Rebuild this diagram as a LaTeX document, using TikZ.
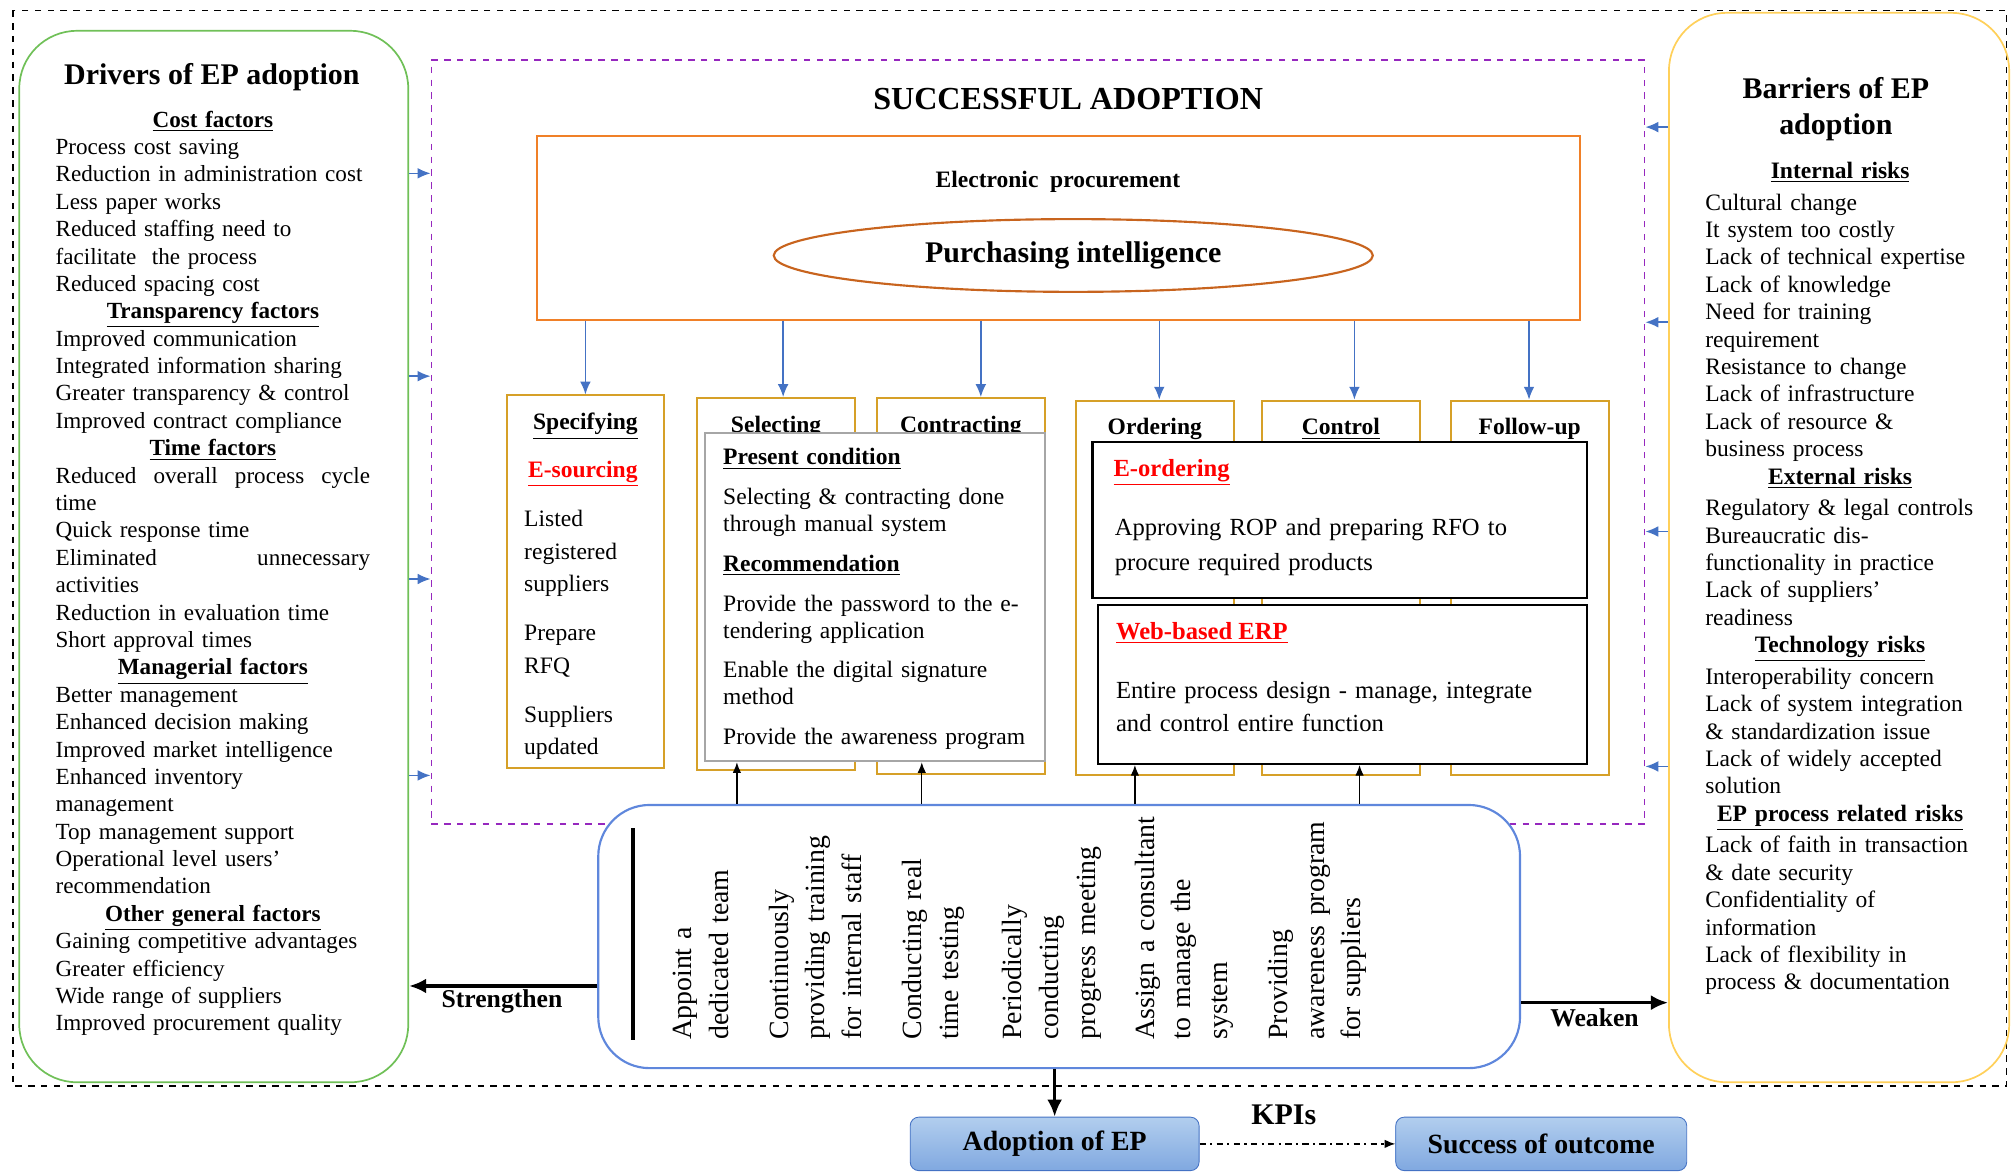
\documentclass[tikz,border=0pt]{standalone}
\usepackage{fontspec}
\setmainfont{Liberation Serif}
\usetikzlibrary{fit,shapes.geometric,arrows.meta}

% Colori
\definecolor{verde}{RGB}{112,192,88}
\definecolor{giallo}{RGB}{255,208,90}
\definecolor{viola}{RGB}{150,40,190}
\definecolor{arancio}{RGB}{240,128,40}
\definecolor{ruggine}{RGB}{200,100,30}
\definecolor{oro}{RGB}{214,160,40}
\definecolor{blu}{RGB}{68,114,196}
\definecolor{azzurro}{RGB}{95,135,220}
\definecolor{celeste1}{RGB}{178,206,238}
\definecolor{celeste2}{RGB}{128,168,224}

% Righe di titolo e righe giustificate
\newcommand{\titolo}[1]{\leavevmode\hbox to\hsize{\hfil\textbf{\underline{#1}}\hfil}}
\newcommand{\giust}[1]{\leavevmode\hbox to\hsize{#1}}
\newcommand{\rosso}[1]{\textcolor{red}{\textbf{\underline{#1}}}}

\begin{document}
\begin{tikzpicture}[x=0.6pt, y=-0.6pt,
    fase/.style={draw=oro, line width=0.9pt, inner sep=0pt},
    elenco/.style={inner sep=0pt, anchor=base west, align=left, font=\fontsize{10.8}{12.8}\selectfont},
    azione/.style={inner sep=0pt, anchor=base west, rotate=90, align=left, text width=110pt, font=\fontsize{13}{17.1}\selectfont},
    freccia/.style={blu, line width=0.7pt, -{Latex[length=6pt,width=5pt]}},
    su/.style={line width=0.6pt, -{Latex[length=5pt,width=4pt]}},
    spinta/.style={line width=1.6pt, -{Latex[length=8pt,width=7pt]}},
    esito/.style={draw=blu, rounded corners=4pt, top color=celeste1, bottom color=celeste2, minimum width=135pt, minimum height=25pt, inner sep=0pt, font=\fontsize{13}{15}\selectfont\bfseries}
    ]

    % Area del disegno (pixel del riferimento)
    \useasboundingbox (0,0) rectangle (1568,914);

    % Cornice esterna
    \draw[dashed, line width=0.7pt] (10,8) rectangle (1563,846);

    % Riquadri laterali
    \node[draw=verde, line width=0.8pt, rounded corners=27pt, inner sep=0pt, fit={(15,24) (318,843)}] (drivers) {};
    \node[draw=giallo, line width=0.8pt, rounded corners=27pt, inner sep=0pt, fit={(1300,10) (1565,843)}] (barriers) {};

    % Fattori (drivers)
    \node[font=\fontsize{14}{17}\selectfont\bfseries] (drivers-t) at (165,60) {Drivers of EP adoption};
    \node[elenco, text width=147pt] (drivers-l) at (43,99) {%
        \titolo{Cost factors}\\
        Process cost saving\\
        Reduction in administration cost\\
        Less paper works\\
        Reduced staffing need to\\
        facilitate~ the process\\
        Reduced spacing cost\\
        \titolo{Transparency factors}\\
        Improved communication\\
        Integrated information sharing\\
        Greater transparency \& control\\
        Improved contract compliance\\
        \titolo{Time factors}\\
        \giust{Reduced\hfill overall\hfill process\hfill cycle}\\
        time\\
        Quick response time\\
        \giust{Eliminated\hfill unnecessary}\\
        activities\\
        Reduction in evaluation time\\
        Short approval times\\
        \titolo{Managerial factors}\\
        Better management\\
        Enhanced decision making\\
        Improved market intelligence\\
        Enhanced inventory\\
        management\\
        Top management support\\
        Operational level users'\\
        recommendation\\
        \titolo{Other general factors}\\
        Gaining competitive advantages\\
        Greater efficiency\\
        Wide range of suppliers\\
        Improved procurement quality};

    % Barriere
    \node[align=center, font=\fontsize{14}{16.8}\selectfont\bfseries] (barriers-t) at (1430,85) {Barriers of EP\\adoption};
    \node[elenco, text width=126pt, font=\fontsize{11}{12.8}\selectfont] (barriers-l) at (1328,139) {%
        \titolo{Internal risks}\\[2pt]
        Cultural change\\
        It system too costly\\
        Lack of technical expertise\\
        Lack of knowledge\\
        Need for training\\
        requirement\\
        Resistance to change\\
        Lack of infrastructure\\
        Lack of resource \&\\
        business process\\
        \titolo{External risks}\\[2pt]
        Regulatory \& legal controls\\
        Bureaucratic dis-\\
        functionality in practice\\
        Lack of suppliers'\\
        readiness\\
        \titolo{Technology risks}\\[2pt]
        Interoperability concern\\
        Lack of system integration\\
        \& standardization issue\\
        Lack of widely accepted\\
        solution\\
        \titolo{EP process related risks}\\[2pt]
        Lack of faith in transaction\\
        \& date security\\
        Confidentiality of\\
        information\\
        Lack of flexibility in\\
        process \& documentation};

    % Adozione riuscita
    \node[draw=viola, dashed, line width=0.8pt, inner sep=0pt, fit={(336,47) (1281,642)}] (succ) {};
    \node[font=\fontsize{15}{18}\selectfont\bfseries] (succ-t) at (832,77) {SUCCESSFUL ADOPTION};

    % Procurement elettronico
    \node[draw=arancio, line width=1pt, inner sep=0pt, fit={(418,106) (1231,249)}] (ep) {};
    \node[font=\fontsize{11}{13}\selectfont\bfseries] (ep-t) at (824,142) {Electronic~ procurement};
    \node[ellipse, draw=ruggine, line width=1pt, minimum width=280pt, minimum height=34pt, inner sep=0pt,
          font=\fontsize{14}{17}\selectfont\bfseries] (intel) at (836,199) {Purchasing intelligence};

    % Fasi del processo
    \foreach \nome/\xa/\ya/\xb/\yb/\testo in {spec/395/308/517/598/Specifying, sel/543/310/666/600/Selecting,
            contr/683/310/814/603/Contracting, ord/838/312/961/604/Ordering,
            ctrl/983/312/1106/604/Control, foll/1130/312/1253/604/Follow-up} {
        \node[fase, fit={(\xa,\ya) (\xb,\yb)}] (\nome) {};
        \node[anchor=base, font=\fontsize{11}{13}\selectfont\bfseries] (\nome-t) at ([yshift=-16.5pt]\nome.north) {\underline{\testo}};
    }

    % Specifying
    \node[font=\fontsize{11}{13}\selectfont] (esourcing) at (454,369) {\rosso{E-sourcing}};
    \node[elenco, text width=62pt, font=\fontsize{11}{15.3}\selectfont] (spec-l) at (408,410)
        {Listed\\registered\\suppliers\\[7.5pt]Prepare\\RFQ\\[7.5pt]Suppliers\\updated};

    % Selecting / Contracting
    \node[draw=gray!70, line width=0.9pt, fill=white, inner sep=0pt, fit={(549,337) (814,593)}] (cond) {};
    \node[elenco, text width=150pt, font=\fontsize{11}{12.6}\selectfont] (cond-l) at (563,362) {%
        \textbf{\underline{Present condition}}\\[6pt]
        Selecting \& contracting done\\
        through manual system\\[6pt]
        \textbf{\underline{Recommendation}}\\[6pt]
        Provide the password to the e-\\
        tendering application\\[6pt]
        Enable the digital signature\\
        method\\[6pt]
        Provide the awareness program};

    % Ordering / Control / Follow-up
    \node[draw, line width=1pt, fill=white, inner sep=0pt, fit={(851,344) (1236,466)}] (eord) {};
    \node[anchor=base west, inner sep=0pt, font=\fontsize{11.5}{14}\selectfont] (eord-t) at (867,371) {\rosso{E-ordering}};
    \node[elenco, text width=215pt, font=\fontsize{11.5}{16.2}\selectfont] (eord-l) at (868,417)
        {Approving ROP and preparing RFO to\\procure required products};
    \node[draw, line width=1pt, fill=white, inner sep=0pt, fit={(855,471) (1236,595)}] (erp) {};
    \node[anchor=base west, inner sep=0pt, font=\fontsize{11.5}{14}\selectfont] (erp-t) at (869,498) {\rosso{Web-based ERP}};
    \node[elenco, text width=215pt, font=\fontsize{11.5}{15.6}\selectfont] (erp-l) at (869,544)
        {Entire process design - manage, integrate\\and control entire function};

    % Frecce dal procurement alle fasi
    \foreach \xx/\fase in {456/spec, 610/sel, 764/contr, 903/ord, 1055/ctrl, 1191/foll}
        \draw[freccia] (\xx,0 |- ep.south) -- (\xx,0 |- \fase.north);

    % Frecce laterali verso l'adozione
    \foreach \yy in {135, 293, 451, 604}
        \draw[freccia] (drivers.east |- 0,\yy) -- (succ.west |- 0,\yy);
    \foreach \yy in {99, 251, 414, 597}
        \draw[freccia] (barriers.west |- 0,\yy) -- (succ.east |- 0,\yy);

    % Azioni raccomandate
    \node[draw=azzurro, line width=1pt, rounded corners=24pt, fill=white, inner sep=0pt, fit={(466,627) (1184,832)}] (acts) {};
    \draw[line width=1.5pt] (493,645) -- (493,810);
    \foreach \cx/\txt in {533/{Appoint a\\dedicated team},
            608/{Continuously\\providing training\\for internal staff},
            712/{Conducting real\\time testing},
            790/{Periodically\\conducting\\progress meeting},
            893/{Assign a consultant\\to manage the\\system},
            997/{Providing\\awareness program\\for suppliers}}
        \node[azione] (az\cx) at (\cx+6,810) {\txt};

    \foreach \xx/\dest in {574/cond, 718/cond, 884/erp, 1059/erp}
        \draw[su] (\xx,0 |- acts.north) -- (\xx,0 |- \dest.south);

    % Rafforza / indebolisce
    \draw[spinta] (acts.west |- 0,768) -- (drivers.east |- 0,768);
    \node[font=\fontsize{12}{14}\selectfont\bfseries] (strength) at (391,780) {Strengthen};
    \draw[spinta] (acts.east |- 0,781) -- (barriers.west |- 0,781);
    \node[font=\fontsize{12}{14}\selectfont\bfseries] (weaken) at (1242,793) {Weaken};

    % Esiti
    \node[esito] (adopt) at (821.5,891) {Adoption of EP};
    \node[esito, minimum width=136pt] (outcome) at (1200.5,891) {Success of outcome};
    \draw[spinta] (acts.south -| adopt.north) -- (adopt.north);
    \draw[line width=0.6pt, dash pattern=on 3pt off 2pt on 1pt off 2pt, -{Latex[length=5pt,width=4pt]}] (adopt) -- (outcome);
    \node[font=\fontsize{14}{16}\selectfont\bfseries] (kpi) at (1000,868) {KPIs};

\end{tikzpicture}
\end{document}
